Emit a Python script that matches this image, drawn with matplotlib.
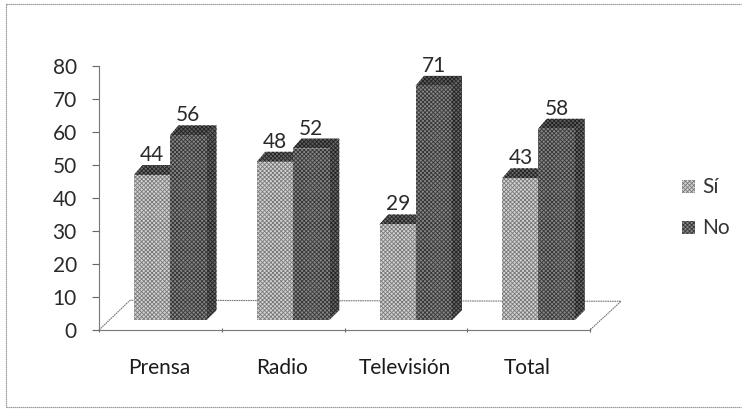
import matplotlib
matplotlib.use("Agg")
import matplotlib.pyplot as plt
from matplotlib.patches import Polygon

plt.rcParams['font.family'] = ['Lato', 'DejaVu Sans']
plt.rcParams['hatch.linewidth'] = 0.6

categories = ["Prensa", "Radio", "Televisión", "Total"]
si = [44, 48, 29, 43]
no = [56, 52, 71, 58]
series_names = ["Sí", "No"]
yticks = [0, 10, 20, 30, 40, 50, 60, 70, 80]

W, H = 742, 409
fig = plt.figure(figsize=(W/100, H/100), dpi=100, facecolor='white')
x0, x1, ytop, ybot = 99, 590, 66, 330
ax = fig.add_axes([x0/W, 1-ybot/H, (x1-x0)/W, (ybot-ytop)/H])
ax.set_xlim(0, 4)
ax.set_ylim(0, 80)
ax.patch.set_alpha(0)

for s in ['top', 'right']:
    ax.spines[s].set_visible(False)
for s in ['left', 'bottom']:
    ax.spines[s].set_color('#777777')
    ax.spines[s].set_linewidth(0.8)
    ax.spines[s].set_linestyle((0, (1.5, 0.6)))
ax.set_yticks(yticks)
ax.set_xticks(range(5))
ax.set_xticklabels([])
ax.tick_params(axis='y', length=5, width=0.8, color='#666666', labelsize=15, labelcolor='#2a2a2a', pad=11)
ax.tick_params(axis='x', length=3, width=0.8, color='#666666', direction='inout')

dx = 10/122.75
dy = 3.0
base = 3.0
floor_dx = 31/122.75
floor_dy = 9.0

ax.plot([0, floor_dx, 4+floor_dx, 4], [0, floor_dy, floor_dy-0.3, 0], color='#777777', lw=0.8,
        ls=(0, (1.5, 0.6)), clip_on=False, zorder=1)

bw = 36.5/122.75
offs = [(134-99)/122.75, (170-99)/122.75]
styles = [
    dict(front='#d4d4d4', side='#8a8a8a', top='#6a6a6a', hatch='xxxxxxxx', ec='#787878'),
    dict(front='#868686', side='#666666', top='#5c5c5c', hatch='xxxxxxxx', ec='#363636'),
]
for j, (vals, off, st) in enumerate(zip([si, no], offs, styles)):
    xs = [i + off for i in range(len(vals))]
    for x, v in zip(xs, vals):
        xr = x + bw
        t = v + base
        side = Polygon([(xr, base), (xr+dx, base+dy), (xr+dx, t+dy), (xr, t)],
                       closed=True, facecolor=st['side'], edgecolor='#222222',
                       hatch=st['hatch'], lw=0, zorder=3+j)
        top = Polygon([(x, t), (x+0.07, t+dy), (xr+dx, t+dy), (xr, t)],
                      closed=True, facecolor=st['top'], edgecolor='#222222',
                      hatch='xxxxxxxx', lw=0, zorder=3+j)
        ax.add_patch(side)
        ax.add_patch(top)
    ax.bar(xs, vals, bw, bottom=base, align='edge', color=st['front'],
           edgecolor=st['ec'], hatch=st['hatch'], lw=0, zorder=3+j)
    for x, v in zip(xs, vals):
        ax.annotate(str(v), (x+bw/2, v+base+dy), xytext=(0, 0), textcoords='offset points',
                    ha='center', va='bottom', fontsize=15, color='#2a2a2a', zorder=8)

for i, c in enumerate(categories):
    ax.annotate(c, (i+0.5, 0), xytext=(-1, -27), textcoords='offset points', ha='center', va='center',
                fontsize=15, color='#1a1a1a', annotation_clip=False)

for name, y, st in zip(series_names, [187, 228], styles):
    fig.patches.append(plt.Rectangle((682/W, 1-(y+6)/H), 13/W, 13/H, transform=fig.transFigure,
                                     facecolor=st['front'], edgecolor=st['ec'], hatch='xxxxxxxx', lw=0))
    fig.text(702/W, 1-y/H, name, fontsize=15, color='#333333', va='center', ha='left')

frame = dict(color='#8a8a8a', lw=0.8, ls=(0, (1.2, 0.6)))
fig.add_artist(plt.Line2D([6/W, 6/W], [1-4/H, 1-407/H], **frame))
fig.add_artist(plt.Line2D([6/W, 741/W], [1-407/H, 1-407/H], **frame))
fig.add_artist(plt.Line2D([6/W, 741/W], [1-4/H, 1-4/H], **frame))

fig.savefig('out.png', dpi=100)
